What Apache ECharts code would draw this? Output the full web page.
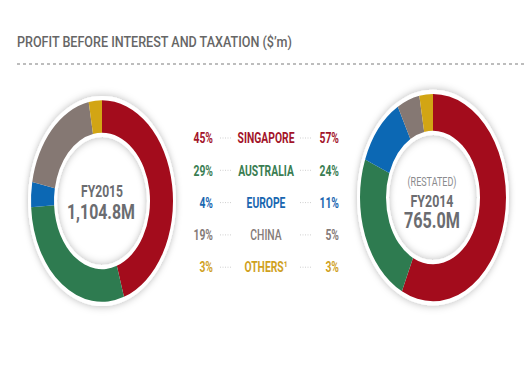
<!DOCTYPE html>
<html><head><meta charset="utf-8">
<script src="https://cdn.jsdelivr.net/npm/echarts@6/dist/echarts.min.js"></script>
<style>
html,body{margin:0;padding:0;background:#fff;}
#wrap{position:relative;width:532px;height:384px;overflow:hidden;}
#pies{position:absolute;left:0;top:0;width:532px;height:384px;transform:scaleY(1.42);transform-origin:266px 199px;}
#main{position:absolute;left:0;top:0;width:532px;height:384px;}
</style></head>
<body><div id="wrap"><div id="pies"></div><div id="main"></div></div>
<script>
const regions = ['SINGAPORE', 'AUSTRALIA', 'EUROPE', 'CHINA', 'OTHERS¹'];
const fy2015 = [45, 29, 4, 19, 3];
const fy2014 = [57, 24, 11, 5, 3];
const totals = ['1,104.8M', '765.0M'];
const years = ['FY2015', 'FY2014'];
const titleText = "PROFIT BEFORE INTEREST AND TAXATION ($’m)";

const sliceColors = ['#a30c1c', '#2e7b50', '#0c68b4', '#857873', '#d2a514'];
const labelColors = ['#a3142a', '#3a7d52', '#1866b0', '#857b78', '#d0a11e'];
const FONT = "Roboto, 'Noto Sans', sans-serif";

// horizontal condensing factor so a wide font matches the narrow face of the original
const ctx = document.createElement('canvas').getContext('2d');
function condense(text, font, targetWidth) {
  ctx.font = font;
  return targetWidth / ctx.measureText(text).width;
}

const pies = echarts.init(document.getElementById('pies'), null, {renderer: 'svg'});
function ringSeries(center, r0, r) {
  return {
    type: 'pie', center: center, radius: [r0 - 3, r + 3], silent: true,
    startAngle: 90, label: {show: false}, labelLine: {show: false},
    itemStyle: {color: '#fff', shadowBlur: 6, shadowColor: 'rgba(0,0,0,0.28)'},
    data: [{value: 1}], z: 1
  };
}
function donut(center, r0, r, vals) {
  return {
    type: 'pie', center: center, radius: [r0, r], silent: true,
    startAngle: 90, clockwise: true, label: {show: false}, labelLine: {show: false},
    itemStyle: {borderWidth: 0},
    data: vals.map((v, i) => ({value: v, name: regions[i], itemStyle: {color: sliceColors[i]}})),
    z: 2
  };
}
pies.setOption({
  animation: false,
  series: [
    ringSeries([102, 200.4], 48, 71),
    donut([102, 200.4], 48, 71, fy2015),
    ringSeries([433, 198], 47, 73),
    donut([433, 198], 47, 73, fy2014)
  ]
});

const main = echarts.init(document.getElementById('main'), null, {renderer: 'svg'});
const g = [];
const titleFont = '500 15px ' + FONT;
g.push({type: 'text', x: 17, y: 42, scaleX: condense(titleText, titleFont, 276),
  style: {text: titleText, fontFamily: FONT, fontSize: 15, fontWeight: 500, fill: '#666', verticalAlign: 'middle'}});
g.push({type: 'line', shape: {x1: 17, y1: 64, x2: 526, y2: 64}, style: {stroke: '#a8a8a8', lineWidth: 1.5, lineDash: [3, 3]}});

function centerText(x, y, text, size, color, weight, width) {
  const sx = condense(text, weight + ' ' + size + 'px ' + FONT, width);
  g.push({type: 'text', x: x, y: y, scaleX: sx,
    style: {text: text, fontFamily: FONT, fontSize: size, fontWeight: weight, fill: color, align: 'center', verticalAlign: 'middle'}});
}
centerText(102, 191, years[0], 16, '#6b6c70', 'bold', 42);
centerText(101, 212, totals[0], 21, '#6b6c70', 'bold', 68);
centerText(432, 182, '(RESTATED)', 13, '#8a8b8e', 'normal', 49);
centerText(432, 201, years[1], 17, '#6b6c70', 'bold', 43);
centerText(432, 221, totals[1], 22, '#6b6c70', 'bold', 56);

const rowFont = 'bold 15px ' + FONT;
const rowScale = condense('SINGAPORE', rowFont, 57);
regions.forEach((name, i) => {
  const y = 138 + i * 32.3;
  const st = {fontFamily: FONT, fontSize: 15, fontWeight: 'bold', fill: labelColors[i], verticalAlign: 'middle'};
  g.push({type: 'text', x: 213, y: y, scaleX: rowScale, style: Object.assign({}, st, {text: fy2015[i] + '%', align: 'right'})});
  g.push({type: 'text', x: 266, y: y, scaleX: rowScale, style: Object.assign({}, st, {text: name, align: 'center', fontWeight: i === 3 ? 500 : 'bold'})});
  g.push({type: 'text', x: 339, y: y, scaleX: rowScale, style: Object.assign({}, st, {text: fy2014[i] + '%', align: 'right'})});
  g.push({type: 'line', shape: {x1: 220, y1: y, x2: 232, y2: y}, style: {stroke: '#cfcfcf', lineWidth: 1, lineDash: [1, 1.5]}});
  g.push({type: 'line', shape: {x1: 300, y1: y, x2: 312, y2: y}, style: {stroke: '#cfcfcf', lineWidth: 1, lineDash: [1, 1.5]}});
});
main.setOption({animation: false, graphic: g});
</script></body></html>
